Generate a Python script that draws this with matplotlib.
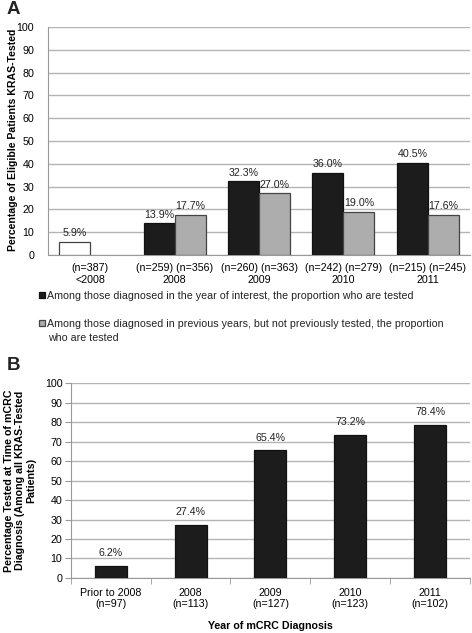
import numpy as np
import matplotlib
matplotlib.use("Agg")
import matplotlib.pyplot as plt

plt.rcParams['font.family'] = ['Liberation Sans', 'DejaVu Sans']
plt.rcParams['font.size'] = 7.7
plt.rcParams['text.color'] = '#222222'

# ---- panel A data
a_groups = ['(n=387)\n<2008', '(n=259) (n=356)\n2008', '(n=260) (n=363)\n2009',
            '(n=242) (n=279)\n2010', '(n=215) (n=245)\n2011']
a_prior = [5.9]                          # white bar, <2008 only
a_year = [13.9, 32.3, 36.0, 40.5]        # black, 2008-2011
a_prev = [17.7, 27.0, 19.0, 17.6]        # grey, 2008-2011
a_legend = ['Among those diagnosed in the year of interest, the proportion who are tested',
            'Among those diagnosed in previous years, but not previously tested, the proportion']
a_legend_cont = 'who are tested'

# ---- panel B data
b_cats = ['Prior to 2008\n(n=97)', '2008\n(n=113)', '2009\n(n=127)', '2010\n(n=123)', '2011\n(n=102)']
b_vals = [6.2, 27.4, 65.4, 73.2, 78.4]

BLACK = '#1c1c1c'
GREY = '#adadad'
GRID = '#b4b4b4'
FS = 7.7

fig = plt.figure(figsize=(4.72, 6.33), dpi=100)

# ================= PANEL A
axA = fig.add_axes([0.1017, 0.5972, 0.8941, 0.3601])
w = 0.367
x = np.arange(len(a_groups))
bw = axA.bar(x[:1] - w / 2, a_prior, w, color='white', edgecolor='#444444', linewidth=0.9, zorder=3)
bb = axA.bar(x[1:] - w / 2, a_year, w, color=BLACK, edgecolor='#111111', linewidth=0.9, zorder=3)
bg = axA.bar(x[1:] + w / 2, a_prev, w, color=GREY, edgecolor='#444444', linewidth=0.9, zorder=3)
for bars, vals in [(bw, a_prior), (bb, a_year), (bg, a_prev)]:
    for r, v in zip(bars, vals):
        axA.text(r.get_x() + r.get_width() / 2, v + 1.5, '%.1f%%' % v,
                 ha='center', va='bottom', fontsize=FS)
axA.set_xlim(-0.5, 4.5)
axA.set_ylim(0, 100)
axA.set_yticks(range(0, 101, 10))
axA.set_xticks(x)
axA.set_xticklabels(a_groups, linespacing=1.15)
axA.tick_params(axis='both', length=0, labelsize=FS)
axA.tick_params(axis='y', pad=10)
axA.tick_params(axis='x', pad=6)
axA.grid(axis='y', color=GRID, linewidth=1.0, zorder=0)
axA.set_axisbelow(True)
for s in ['top', 'right']:
    axA.spines[s].set_visible(False)
axA.spines['left'].set_color('#999999')
axA.spines['bottom'].set_color('#999999')
axA.set_ylabel('Percentage of Eligible Patients KRAS-Tested', fontweight='bold', fontsize=7.6)
axA.yaxis.set_label_coords(-0.072, 0.505)

leg = axA.legend([bb, bg], a_legend, loc='upper left', bbox_to_anchor=(0.082, 1 - 291 / 633),
                 bbox_transform=fig.transFigure, frameon=False, fontsize=FS,
                 handlelength=0.55, handleheight=0.55, handletextpad=0.25,
                 labelspacing=1.65, borderpad=0, borderaxespad=0)
fig.text(0.1017, 1 - 338 / 633, a_legend_cont, fontsize=FS, ha='left', va='center')

fig.text(0.014, 1 - 9 / 633, 'A', fontsize=13.5, fontweight='bold', va='center', ha='left')

# ================= PANEL B
axB = fig.add_axes([0.150, 0.0869, 0.8458, 0.308])
xb = np.arange(len(b_cats))
bars = axB.bar(xb, b_vals, 0.4, color=BLACK, edgecolor='#111111', linewidth=0.9, zorder=3)
for r, v in zip(bars, b_vals):
    axB.text(r.get_x() + r.get_width() / 2, v + 4, '%.1f%%' % v,
             ha='center', va='bottom', fontsize=FS)
axB.set_xlim(-0.5, 4.5)
axB.set_ylim(0, 100)
axB.set_yticks(range(0, 101, 10))
axB.set_xticks(xb)
axB.set_xticklabels(b_cats, linespacing=1.15)
axB.set_xticks(np.arange(-0.5, 4.6, 1), minor=True)
axB.tick_params(axis='x', which='major', length=0, pad=7, labelsize=FS)
axB.tick_params(axis='x', which='minor', length=4, color='#999999', direction='out')
axB.tick_params(axis='y', length=4, color='#999999', pad=2, labelsize=FS)
axB.grid(axis='y', color=GRID, linewidth=1.0, zorder=0)
axB.set_axisbelow(True)
for s in ['top', 'right']:
    axB.spines[s].set_visible(False)
axB.spines['left'].set_color('#999999')
axB.spines['bottom'].set_color('#999999')
axB.set_xlabel('Year of mCRC Diagnosis', fontweight='bold', labelpad=9)
axB.set_ylabel('Percentage Tested at Time of mCRC\nDiagnosis (Among all KRAS-Tested\nPatients)',
               fontweight='bold', labelpad=6, linespacing=1.15)

fig.text(0.014, 1 - 366 / 633, 'B', fontsize=13.5, fontweight='bold', va='center', ha='left')

fig.savefig('out.png', dpi=100)
